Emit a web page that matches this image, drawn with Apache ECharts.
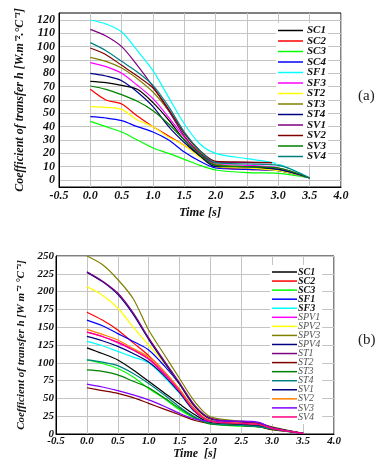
<!DOCTYPE html>
<html>
<head>
<meta charset="utf-8">
<script src="https://cdn.jsdelivr.net/npm/echarts@6/dist/echarts.min.js"></script>
<style>
  html, body { margin: 0; background: #fff; }
  #chart { width: 386px; height: 471px; }
</style>
</head>
<body>
<div id="chart"></div>
<script>
// ---- chart (a) ----
const timesA = [0, 0.25, 0.5, 0.75, 1, 1.25, 1.5, 1.75, 2, 2.5, 3, 3.5];
const timesAShort = [0, 0.25, 0.5, 0.75, 1, 1.25, 1.5, 1.75, 2, 2.5, 2.9];
const namesA = ["SC1", "SC2", "SC3", "SC4", "SF1", "SF3", "ST2", "ST3", "ST4", "SV1", "SV2", "SV3", "SV4"];
const colorsA = ["#000000", "#ff0000", "#00ff00", "#0000ff", "#00ffff", "#ff00ff", "#ffff00", "#808000", "#000080", "#800080", "#800000", "#008000", "#008080"];
const a_SC1 = [74, 73, 71, 68, 58, 45, 30, 18, 11, 9, 8, 1.5];
const a_SC2 = [68, 60, 57, 48, 40, 33, 26, 18, 10, 8, 7, 1.5];
const a_SC3 = [44, 40, 36, 30, 24, 20, 15.5, 11, 7.5, 5.5, 5, 1.5];
const a_SC4 = [47.5, 46.5, 44.5, 40, 36, 30, 21, 14, 9, 8, 7, 1.5];
const a_SF1 = [120, 117, 111, 97, 82, 62, 42, 27, 20, 16, 12, 1.5];
const a_SF3 = [88, 85, 80, 71, 61, 47, 32, 20, 12, 11, 9, 1.5];
const a_ST2 = [55, 54.5, 53, 45, 40, 32, 26, 17, 10, 9, 7, 1.5];
const a_ST3 = [92, 89, 84, 76, 66, 52, 35, 21, 12, 10, 9, 1.5];
const a_ST4 = [80, 78, 74.5, 66, 55, 40, 28, 18, 10, 10, 8, 1.5];
const a_SV1 = [113, 108, 100, 86, 70, 52, 33, 20, 13, 13, 13];
const a_SV2 = [99, 94, 86, 78, 69, 53, 35, 22, 14, 13.5, 13];
const a_SV3 = [70.5, 68, 64, 59, 52, 42, 30, 19, 11, 10, 9, 1.5];
const a_SV4 = [103, 97, 89, 81, 71, 55, 36, 22, 13, 12, 11, 1.5];
const valuesA = [a_SC1, a_SC2, a_SC3, a_SC4, a_SF1, a_SF3, a_ST2, a_ST3, a_ST4, a_SV1, a_SV2, a_SV3, a_SV4];

// ---- chart (b) ----
const timesB = [0, 0.25, 0.5, 0.75, 1, 1.25, 1.5, 1.75, 2, 2.5, 2.8, 3, 3.5];
const namesB = ["SC1", "SC2", "SC3", "SF1", "SF3", "SPV1", "SPV2", "SPV3", "SPV4", "ST1", "ST2", "ST3", "ST4", "SV1", "SV2", "SV3", "SV4"];
const colorsB = ["#000000", "#ff0000", "#00ff00", "#0000ff", "#00ffff", "#ff00ff", "#ffff00", "#808000", "#000080", "#800080", "#800000", "#008000", "#008080", "#000080", "#ff8000", "#8000ff", "#ff0080"];
const b_SC1 = [121, 113, 104, 90, 74, 58, 42, 27, 16, 13, 11, 7, 1];
const b_SC2 = [171, 160, 146, 128, 110, 88, 62, 34, 19, 15, 13, 8, 1];
const b_SC3 = [104, 99, 92, 80, 64, 50, 34, 22, 14, 11, 10, 6, 1];
const b_SF1 = [160, 152, 141, 130, 118, 96, 70, 38, 22, 16, 14, 8, 1];
const b_SF3 = [130, 124, 116, 108, 100, 80, 57, 31, 18, 14, 12, 8, 1];
const b_SPV1 = [143, 137, 128, 118, 106, 86, 62, 34, 19, 15, 13, 8, 1];
const b_SPV2 = [207, 195, 177, 150, 125, 100, 70, 37, 20, 16, 14, 8, 1];
const b_SPV3 = [250, 238, 217, 190, 146, 112, 78, 45, 24, 18, 15, 10, 1];
const b_SPV4 = [227, 214, 196, 168, 133, 101, 70, 38, 21, 17, 14, 9, 1];
const b_ST1 = [228, 215, 198, 170, 135, 103, 72, 40, 22, 17, 15, 9, 1];
const b_ST2 = [65, 61, 57, 51, 43, 35, 27, 19, 15, 12, 10, 6, 1];
const b_ST3 = [90, 88, 83, 74, 65, 51, 36, 23, 14, 12, 10, 7, 1];
const b_ST4 = [104, 101, 96, 85, 71, 55, 38, 24, 15, 12, 10, 7, 1];
const b_SV1 = [137, 131, 123, 113, 101, 82, 58, 31, 18, 14, 12, 8, 1];
const b_SV2 = [147, 140, 132, 120, 108, 88, 63, 33, 18, 15, 13, 8, 1];
const b_SV3 = [70, 66, 61, 55, 48, 39, 29, 21, 18, 18, 16, 8, 1];
const b_SV4 = [143, 137, 129, 118, 105, 84, 60, 32, 18, 15, 13, 8, 1];
const valuesB = [b_SC1, b_SC2, b_SC3, b_SF1, b_SF3, b_SPV1, b_SPV2, b_SPV3, b_SPV4, b_ST1, b_ST2, b_ST3, b_ST4, b_SV1, b_SV2, b_SV3, b_SV4];

const FONT = "Liberation Serif";
const gridGray = "#c4c4c4";
const labelStyle = (size) => ({
  fontFamily: FONT, fontStyle: "italic", fontWeight: "bold", fontSize: size, color: "#111"
});

const chart = echarts.init(document.getElementById("chart"));

// legend names for (b) get a suffix so they don't collide with (a)
const tagB = (n) => n + "#b";

const seriesA = namesA.map((name, i) => {
  const times = valuesA[i].length === timesA.length ? timesA : timesAShort;
  return {
    name: name,
    type: "line",
    xAxisIndex: 1,
    yAxisIndex: 1,
    smooth: 0.3,
    symbol: "none",
    color: colorsA[i],
    lineStyle: { width: 1.2, color: colorsA[i] },
    data: times.map((t, k) => [t, valuesA[i][k]])
  };
});

const seriesB = namesB.map((name, i) => ({
  name: tagB(name),
  type: "line",
  xAxisIndex: 2,
  yAxisIndex: 2,
  smooth: 0.3,
  symbol: "none",
  color: colorsB[i],
  lineStyle: { width: 1.2, color: colorsB[i] },
  data: timesB.map((t, k) => [t, valuesB[i][k]])
}));

const option = {
  animation: false,
  backgroundColor: "#fff",
  grid: [
    // (a) frame
    { left: 59, top: 13, width: 282, height: 174, show: true, borderColor: "#000", borderWidth: 1, outerBoundsMode: "none" },
    // (a) inner value range 0..120
    { left: 59, top: 20, width: 282, height: 160, outerBoundsMode: "none" },
    // (b)
    { left: 56, top: 256, width: 278, height: 178, show: true, borderColor: "#000", borderWidth: 1, outerBoundsMode: "none" }
  ],
  xAxis: [
    {
      gridIndex: 0, type: "value", min: -0.5, max: 4, interval: 0.5,
      axisLine: { show: true, onZero: false, lineStyle: { color: "#000", width: 1 } },
      axisTick: { show: false },
      axisLabel: Object.assign(labelStyle(12), { margin: 3, formatter: (v) => v.toFixed(1) }),
      splitLine: { show: true, lineStyle: { color: gridGray, width: 1 } },
      name: "Time [s]", nameLocation: "middle", nameGap: 19,
      nameTextStyle: labelStyle(12.5)
    },
    { gridIndex: 1, type: "value", min: -0.5, max: 4, show: false },
    {
      gridIndex: 2, type: "value", min: -0.5, max: 4, interval: 0.5,
      axisLine: { show: true, onZero: false, lineStyle: { color: "#000", width: 1 } },
      axisTick: { show: false },
      axisLabel: Object.assign(labelStyle(11), { margin: 2, formatter: (v) => v.toFixed(1) }),
      splitLine: { show: true, lineStyle: { color: gridGray, width: 1 } },
      name: "Time  [s]", nameLocation: "middle", nameGap: 14,
      nameTextStyle: labelStyle(12)
    }
  ],
  yAxis: [
    {
      gridIndex: 0, type: "value", min: -5, max: 125,
      axisLine: { show: true, onZero: false, lineStyle: { color: "#000", width: 1 } },
      axisTick: { show: false }, axisLabel: { show: false }, splitLine: { show: false }
    },
    {
      gridIndex: 1, type: "value", min: 0, max: 120, interval: 10,
      axisLine: { show: false, onZero: false }, axisTick: { show: false },
      axisLabel: Object.assign(labelStyle(12), { margin: 4 }),
      splitLine: { show: true, lineStyle: { color: gridGray, width: 1 } },
      name: "Coefficient of transfer h [W.m⁻².°C⁻¹]", nameLocation: "middle", nameGap: 30,
      nameTextStyle: labelStyle(12)
    },
    {
      gridIndex: 2, type: "value", min: 0, max: 250, interval: 25,
      axisLine: { show: true, onZero: false, lineStyle: { color: "#000", width: 1 } },
      axisTick: { show: false },
      axisLabel: Object.assign(labelStyle(11), { margin: 2 }),
      splitLine: { show: true, lineStyle: { color: gridGray, width: 1 } },
      name: "Coefficient of transfer h [W m⁻² °C⁻¹]", nameLocation: "middle", nameGap: 27,
      nameTextStyle: labelStyle(11)
    }
  ],
  legend: [
    {
      data: namesA, orient: "vertical", left: 276, top: 23,
      backgroundColor: "#fff", padding: [2, 2, 2, 2],
      icon: "rect", itemWidth: 25, itemHeight: 1.5, itemGap: -0.5,
      textStyle: Object.assign(labelStyle(11), { lineHeight: 10, padding: [0, 0, 0, -1] })
    },
    {
      data: namesB.map(tagB), orient: "vertical", left: 270, top: 265,
      backgroundColor: "#fff", padding: [2, 2, 2, 2],
      icon: "rect", itemWidth: 25, itemHeight: 1.5, itemGap: -0.94,
      formatter: (name) => {
        const n = name.replace("#b", "");
        return namesB.indexOf(n) < 5 ? "{b|" + n + "}" : "{n|" + n + "}";
      },
      textStyle: {
        lineHeight: 9, padding: [0, 0, 0, -4],
        rich: {
          b: { fontFamily: FONT, fontStyle: "italic", fontWeight: "bold", fontSize: 10, color: "#111", lineHeight: 9 },
          n: { fontFamily: FONT, fontStyle: "italic", fontWeight: "normal", fontSize: 10, color: "#555", lineHeight: 9 }
        }
      }
    }
  ],
  graphic: [
    { type: "text", left: 358, top: 89, style: { text: "(a)", font: "15px 'Liberation Serif'", fill: "#222" } },
    { type: "text", left: 358, top: 333, style: { text: "(b)", font: "15px 'Liberation Serif'", fill: "#222" } }
  ],
  series: seriesA.concat(seriesB)
};

chart.setOption(option);
</script>
</body>
</html>
